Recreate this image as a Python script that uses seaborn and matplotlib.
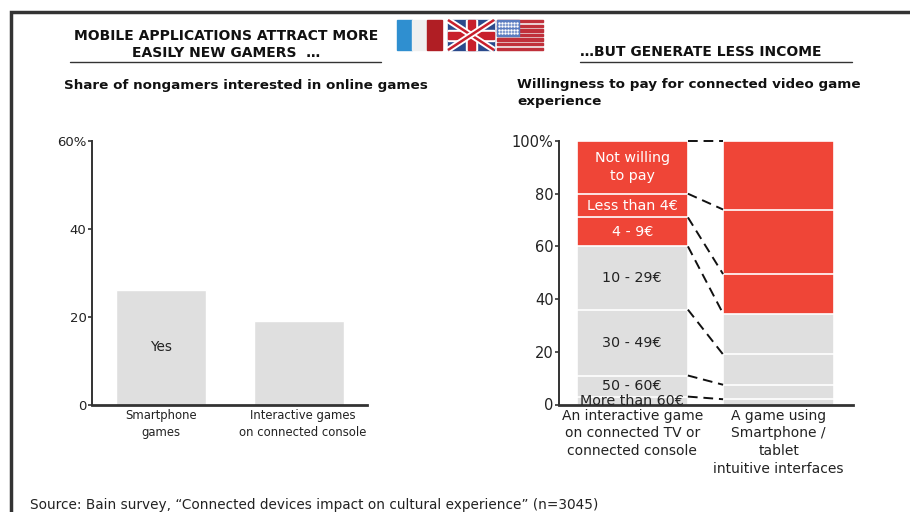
import numpy as np
import pandas as pd
import matplotlib
matplotlib.use('Agg')
import matplotlib.pyplot as plt
from matplotlib.patches import Rectangle
from matplotlib.transforms import ScaledTranslation
import seaborn as sns

share_labels = ['Smartphone\ngames', 'Interactive games\non connected console']
share_values = [26, 19]

pay_columns = ['An interactive game\non connected TV or\nconnected console',
               'A game using\nSmartphone /\ntablet\nintuitive interfaces']
# bottom to top
pay_bands = ['More than 60€', '50 - 60€', '30 - 49€', '10 - 29€', '4 - 9€', 'Less than 4€', 'Not willing\nto pay']
pay_console = [3, 8, 25, 24, 11, 9, 20]
pay_mobile = [2, 5.5, 11.5, 15.5, 15, 24.5, 26]
band_is_red = [False, False, False, False, True, True, True]

RED = '#EF4537'
GREY = '#DFDFDF'
INK = '#222222'
AXIS = '#333333'

sns.set_theme(style='white')
plt.rcParams['font.family'] = ['DejaVu Sans']

fig = plt.figure(figsize=(9.1, 5.12), dpi=100)


def pixel_axes(left, top, right, bottom):
    return fig.add_axes([left / 910, (512 - bottom) / 512, (right - left) / 910, (bottom - top) / 512])


# page layer, in image pixels
bg = fig.add_axes([0, 0, 1, 1], zorder=0)
bg.set_xlim(0, 910)
bg.set_ylim(512, 0)
bg.axis('off')
bg.plot([10.5, 10.5, 910], [512, 12, 12], color=AXIS, lw=2.5, solid_joinstyle='miter')

bg.text(226, 44.5, 'MOBILE APPLICATIONS ATTRACT MORE\nEASILY NEW GAMERS  …', ha='center', va='center',
        fontsize=10, fontweight='bold', color='#111111', linespacing=1.35)
bg.plot([70, 381], [62, 62], color=AXIS, lw=1)
bg.text(701, 52, '…BUT GENERATE LESS INCOME', ha='center', va='center',
        fontsize=10, fontweight='bold', color='#111111')
bg.plot([580, 852], [62, 62], color=AXIS, lw=1)
bg.text(64, 85, 'Share of nongamers interested in online games', ha='left', va='center',
        fontsize=9.7, fontweight='bold', color='#111111')
bg.text(517, 93, 'Willingness to pay for connected video game\nexperience', ha='left', va='center',
        fontsize=9.7, fontweight='bold', color='#111111', linespacing=1.4)
bg.text(30, 504.5, 'Source: Bain survey, “Connected devices impact on cultural experience” (n=3045)',
        ha='left', va='center', fontsize=9.8, color=INK)

# flags
bg.add_patch(Rectangle((397, 20), 15, 30, color='#2F8FD0'))
bg.add_patch(Rectangle((412, 20), 15, 30, color='#F0F0F0'))
bg.add_patch(Rectangle((427, 20), 15, 30, color='#B01E24'))

bg.add_patch(Rectangle((448, 20), 46, 30, color='#2A4A8C'))
for y0, y1 in [(20, 50), (50, 20)]:
    bg.plot([448, 494], [y0, y1], color='white', lw=4.5, solid_capstyle='butt')
    bg.plot([448, 494], [y0, y1], color='#C8202C', lw=1.8, solid_capstyle='butt')
bg.add_patch(Rectangle((448, 29.5), 46, 11, color='white'))
bg.add_patch(Rectangle((465.5, 20), 11, 30, color='white'))
bg.add_patch(Rectangle((448, 31.5), 46, 7, color='#C8202C'))
bg.add_patch(Rectangle((467.5, 20), 7, 30, color='#C8202C'))

bg.add_patch(Rectangle((497, 20), 46, 30, color='#F4F4F4'))
for i in range(7):
    bg.add_patch(Rectangle((497, 20 + i * 30 / 6.5), 46, 30 / 13, color='#C0303A'))
bg.add_patch(Rectangle((497, 20), 22, 16, color='#5A7CC0'))
for row in range(4):
    bg.plot(np.arange(499, 518, 3), np.full(7, 22.5 + row * 3.6), ls='none', marker='.', ms=1.6, color='white')


def style_axis(ax, ticks, labels, ysize, xsize, spacing):
    ax.set_yticks(ticks)
    ax.set_yticklabels(labels)
    ax.set_xlabel('')
    ax.set_ylabel('')
    sns.despine(ax=ax)
    for side in ['left', 'bottom']:
        ax.spines[side].set_color(AXIS)
    ax.spines['left'].set_linewidth(1.4)
    ax.spines['bottom'].set_linewidth(2)
    ax.tick_params(axis='y', left=True, length=3, width=1.2, color=AXIS, pad=1,
                   labelsize=ysize, labelcolor=INK)
    ax.tick_params(axis='x', bottom=False, length=0, pad=3, labelsize=xsize, labelcolor=INK)
    for label in ax.get_xticklabels():
        label.set_linespacing(spacing)
    ax.patch.set_alpha(0)


# left chart
ax1 = pixel_axes(92, 141, 367, 404.5)
share = pd.DataFrame({'game': share_labels, 'share': share_values})
sns.barplot(data=share, x='game', y='share', color=GREY, saturation=1, width=0.652, ax=ax1)
ax1.set_xlim(-0.5, 1.493)
ax1.set_ylim(0, 60)
style_axis(ax1, [0, 20, 40, 60], ['0', '20', '40', '60%'], 9.5, 8.4, 1.4)
ax1.text(0, share_values[0] / 2, 'Yes', ha='center', va='center', fontsize=9.8, color=INK)
# the second label sits a little right of its bar in the original
label2 = ax1.get_xticklabels()[1]
label2.set_transform(label2.get_transform() + ScaledTranslation(4 / 100, 0, fig.dpi_scale_trans))

# right chart, stacked from cumulative layers
ax2 = pixel_axes(559, 141, 853, 404.5)
tops_console = np.cumsum(pay_console)
tops_mobile = np.cumsum(pay_mobile)
for i in range(len(pay_bands) - 1, -1, -1):
    layer = pd.DataFrame({'col': pay_columns, 'top': [tops_console[i], tops_mobile[i]]})
    sns.barplot(data=layer, x='col', y='top', color=RED if band_is_red[i] else GREY, saturation=1,
                width=0.76, edgecolor='white', linewidth=1.2, ax=ax2)
ax2.set_xlim(-0.5, 1.507)
ax2.set_ylim(0, 100)
style_axis(ax2, [0, 20, 40, 60, 80, 100], ['0', '20', '40', '60', '80', '100%'], 10.5, 10, 1.33)

for i, band in enumerate(pay_bands):
    mid = tops_console[i] - pay_console[i] / 2
    ax2.text(0, mid, band, ha='center', va='center', fontsize=10.3, linespacing=1.35,
             color='white' if band_is_red[i] else INK, zorder=6, clip_on=False)

for a, b in zip(tops_console, tops_mobile):
    ax2.plot([0.38, 0.62], [a, b], color='#111111', lw=1.4, ls=(0, (5, 3)), clip_on=False, zorder=5)

fig.savefig('out.png', dpi=100)
